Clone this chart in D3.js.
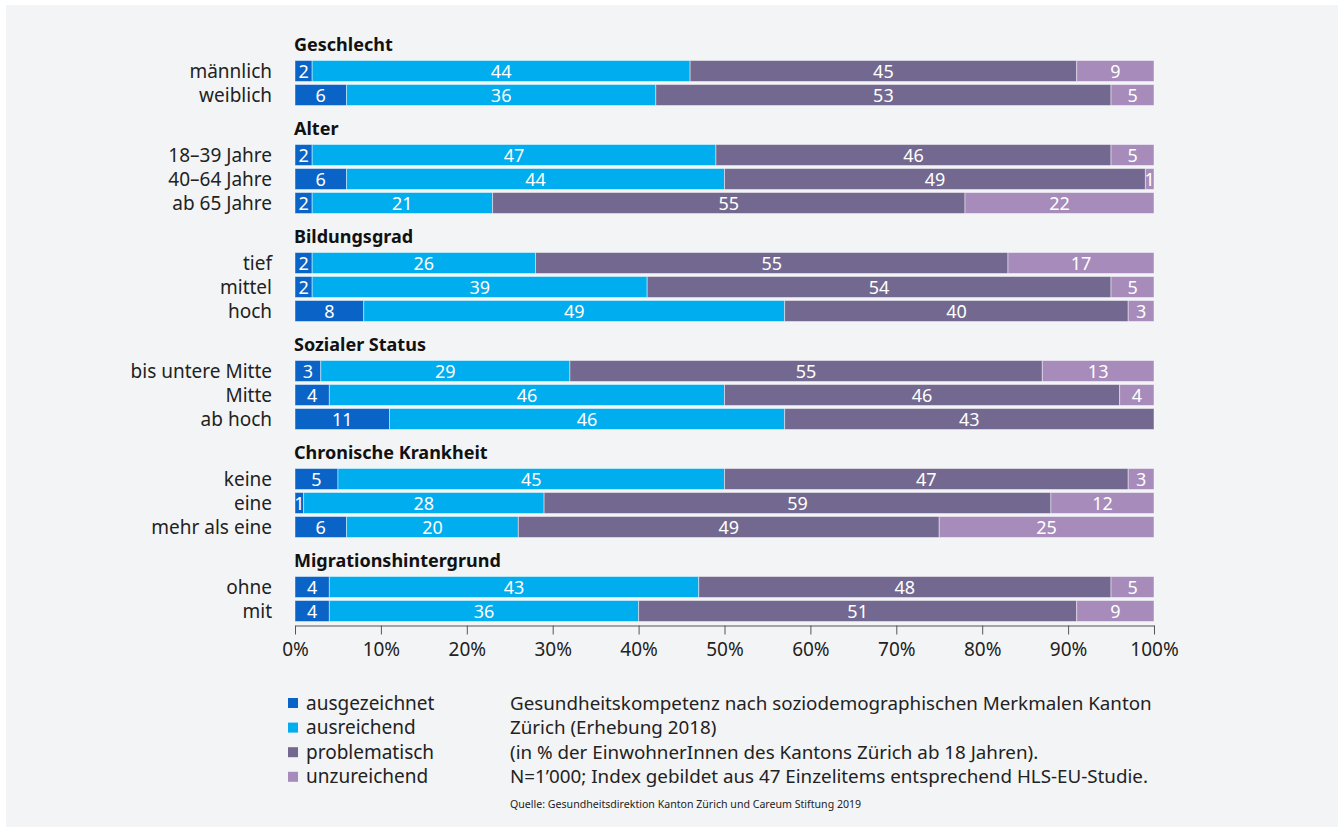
<!DOCTYPE html>
<html>
<head>
<meta charset="utf-8">
<script src="https://cdn.jsdelivr.net/npm/d3@7"></script>
<style>
  body { margin: 0; background: #fff; }
  svg { display: block; font-family: "Noto Sans", sans-serif; }
</style>
</head>
<body>
<div id="chart"></div>
<script>
// Groups and their rows
const groups = ["Geschlecht", "Alter", "Bildungsgrad", "Sozialer Status", "Chronische Krankheit", "Migrationshintergrund"];
const groupRows = [
    ["männlich", "weiblich"],
    ["18–39 Jahre", "40–64 Jahre", "ab 65 Jahre"],
    ["tief", "mittel", "hoch"],
    ["bis untere Mitte", "Mitte", "ab hoch"],
    ["keine", "eine", "mehr als eine"],
    ["ohne", "mit"]
];

// Series values (in %), same order as the rows above
const seriesKeys = ["ausgezeichnet", "ausreichend", "problematisch", "unzureichend"];
const ausgezeichnet = [2, 6, 2, 6, 2, 2, 2, 8, 3, 4, 11, 5, 1, 6, 4, 4];
const ausreichend   = [44, 36, 47, 44, 21, 26, 39, 49, 29, 46, 46, 45, 28, 20, 43, 36];
const problematisch = [45, 53, 46, 49, 55, 55, 54, 40, 55, 46, 43, 47, 59, 49, 48, 51];
const unzureichend  = [9, 5, 5, 1, 22, 17, 5, 3, 13, 4, 0, 3, 12, 25, 5, 9];

const tickValues = [0, 10, 20, 30, 40, 50, 60, 70, 80, 90, 100];

const notes = [
    "Gesundheitskompetenz nach soziodemographischen Merkmalen Kanton",
    "Zürich (Erhebung 2018)",
    "(in % der EinwohnerInnen des Kantons Zürich ab 18 Jahren).",
    "N=1’000; Index gebildet aus 47 Einzelitems entsprechend HLS-EU-Studie."
];
const source = "Quelle: Gesundheitsdirektion Kanton Zürich und Careum Stiftung 2019";

// Flatten rows, giving each header 1.5 slots and each row 1 slot
const rows = [];
const headers = [];
let pos = 0;
groupRows.forEach((list, gi) => {
    headers.push({ name: groups[gi], pos: pos });
    pos += 1.5;
    list.forEach(label => {
        const i = rows.length;
        rows.push({
            label: label,
            pos: pos,
            ausgezeichnet: ausgezeichnet[i],
            ausreichend: ausreichend[i],
            problematisch: problematisch[i],
            unzureichend: unzureichend[i]
        });
        pos += 1;
    });
});

const W = 1338, H = 827;

const svg = d3.select("#chart")
    .append("svg")
    .attr("width", W)
    .attr("height", H);

svg.append("rect").attr("width", W).attr("height", H).attr("fill", "#fff");
svg.append("rect").attr("x", 6).attr("y", 5).attr("width", W - 6).attr("height", H - 5).attr("fill", "#f3f4f6");

// Scales
const x = d3.scaleLinear().domain([0, 100]).range([295, 1154]);
// slot position -> row centre (px)
const y = d3.scaleLinear().domain([1.5, 2.5]).range([71, 95]);
const barH = 21;

const color = d3.scaleOrdinal()
    .domain(seriesKeys)
    .range(["#0a64c8", "#00adee", "#736990", "#a68bbb"]);

const stacked = d3.stack().keys(seriesKeys)(rows);

// Bars
const layer = svg.append("g")
    .selectAll("g")
    .data(stacked)
    .enter()
    .append("g")
    .attr("fill", d => color(d.key));

layer.selectAll("rect")
    .data(d => d)
    .enter()
    .append("rect")
    .attr("x", d => x(d[0]))
    .attr("y", d => y(d.data.pos) - barH / 2)
    .attr("width", d => x(d[1]) - x(d[0]))
    .attr("height", barH)
    .attr("stroke", "#ffffff")
    .attr("stroke-opacity", 0.45)
    .attr("stroke-width", 1);

// Value labels
layer.selectAll("text")
    .data(d => d.filter(s => s[1] - s[0] > 0))
    .enter()
    .append("text")
    .attr("x", d => (x(d[0]) + x(d[1])) / 2)
    .attr("y", d => y(d.data.pos) + 6.5)
    .attr("text-anchor", "middle")
    .attr("fill", "#fff")
    .style("font-size", "18px")
    .text(d => d[1] - d[0]);

// Row labels
svg.append("g")
    .selectAll("text")
    .data(rows)
    .enter()
    .append("text")
    .attr("x", 272)
    .attr("y", d => y(d.pos) + 6.5)
    .attr("text-anchor", "end")
    .attr("fill", "#222")
    .style("font-size", "19px")
    .text(d => d.label);

// Group headers
svg.append("g")
    .selectAll("text")
    .data(headers)
    .enter()
    .append("text")
    .attr("x", 294)
    .attr("y", d => y(d.pos + 0.4) + 6.5)
    .attr("fill", "#111")
    .style("font-size", "18px")
    .style("font-weight", "bold")
    .text(d => d.name);

// X axis
const axisY = y(rows[rows.length - 1].pos) + barH / 2 + 4;
const axis = svg.append("g")
    .attr("transform", `translate(0, ${axisY})`)
    .call(d3.axisBottom(x).tickValues(tickValues).tickFormat(d => d + "%").tickSize(9).tickSizeOuter(0));
axis.select(".domain").attr("stroke", "#555");
axis.selectAll(".tick line").attr("stroke", "#555");
axis.selectAll(".tick text")
    .attr("fill", "#222")
    .attr("dy", "0.95em")
    .style("font-size", "19px")
    .style("font-family", "Noto Sans, sans-serif");

// Legend
const legend = svg.append("g").attr("transform", "translate(288, 703)");
seriesKeys.forEach((key, i) => {
    legend.append("rect")
        .attr("x", 0)
        .attr("y", i * 24.6 - 5)
        .attr("width", 10)
        .attr("height", 10)
        .attr("fill", color(key));
    legend.append("text")
        .attr("x", 18)
        .attr("y", i * 24.6 + 6.5)
        .attr("fill", "#222")
        .style("font-size", "19px")
        .text(key);
});

// Notes
notes.forEach((line, i) => {
    svg.append("text")
        .attr("x", 510)
        .attr("y", 709.5 + i * 24.6)
        .attr("fill", "#222")
        .style("font-size", "18.8px")
        .text(line);
});

svg.append("text")
    .attr("x", 510)
    .attr("y", 808)
    .attr("fill", "#222")
    .style("font-size", "10.6px")
    .text(source);
</script>
</body>
</html>
